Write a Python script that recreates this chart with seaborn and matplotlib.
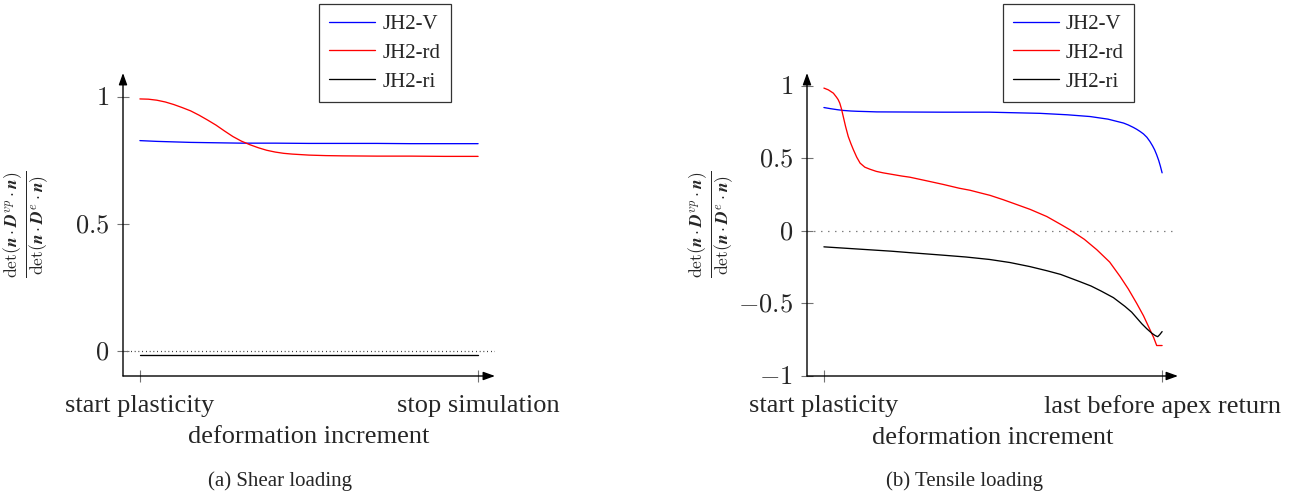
import numpy as np
import pandas as pd
import matplotlib
matplotlib.use("Agg")
import matplotlib.pyplot as plt
import seaborn as sns

# ---------------- data ----------------
series_names = ["JH2-V", "JH2-rd", "JH2-ri"]
series_colors = ["#0000ff", "#ff0000", "#000000"]

# (a) Shear loading
shear_V_t = [0, 0.05, 0.1, 0.15, 0.2, 0.25, 0.3, 0.4, 0.5, 0.6, 0.7, 0.8, 0.9, 1.0]
shear_V = [0.828, 0.825, 0.823, 0.821, 0.820, 0.819, 0.818, 0.818, 0.817, 0.817, 0.817,
           0.816, 0.816, 0.816]
shear_rd_t = [0, 0.025, 0.05, 0.075, 0.1, 0.125, 0.15, 0.175, 0.2, 0.225, 0.25, 0.275, 0.3,
              0.325, 0.35, 0.375, 0.4, 0.425, 0.45, 0.5, 0.55, 0.6, 0.7, 0.8, 0.9, 1.0]
shear_rd = [0.992, 0.991, 0.987, 0.980, 0.970, 0.958, 0.945, 0.928, 0.909, 0.889, 0.866,
            0.844, 0.826, 0.812, 0.800, 0.790, 0.783, 0.778, 0.775, 0.771, 0.769, 0.768,
            0.767, 0.767, 0.766, 0.766]
shear_ri_t = [0, 0.25, 0.5, 0.75, 1.0]
shear_ri = [-0.014, -0.014, -0.014, -0.014, -0.014]

# (b) Tensile loading
tens_V_t = [0, 0.02, 0.04, 0.057, 0.08, 0.1, 0.13, 0.156, 0.25, 0.35, 0.49, 0.639, 0.72,
            0.787, 0.84, 0.886, 0.90, 0.915, 0.925, 0.935, 0.945, 0.955, 0.964, 0.972,
            0.978, 0.984, 0.99, 0.995, 1.0]
tens_V = [0.85, 0.842, 0.835, 0.83, 0.826, 0.824, 0.822, 0.82, 0.819, 0.818, 0.818, 0.81,
          0.80, 0.788, 0.77, 0.743, 0.73, 0.713, 0.70, 0.685, 0.668, 0.645, 0.616, 0.585,
          0.558, 0.524, 0.485, 0.445, 0.40]
tens_rd_t = [0, 0.013, 0.028, 0.037, 0.042, 0.047, 0.052, 0.057, 0.064, 0.072, 0.08, 0.087,
             0.097, 0.107, 0.121, 0.136, 0.155, 0.175, 0.2, 0.23, 0.254, 0.30, 0.353, 0.40,
             0.432, 0.462, 0.491, 0.53, 0.56, 0.61, 0.659, 0.70, 0.728, 0.77, 0.807, 0.845,
             0.876, 0.90, 0.925, 0.945, 0.964, 0.975, 0.984, 1.0]
tens_rd = [0.984, 0.972, 0.949, 0.922, 0.905, 0.88, 0.84, 0.79, 0.72, 0.65, 0.60, 0.56,
           0.508, 0.467, 0.439, 0.425, 0.41, 0.40, 0.39, 0.378, 0.37, 0.347, 0.32, 0.294,
           0.28, 0.262, 0.245, 0.215, 0.19, 0.148, 0.099, 0.045, 0.007, -0.058, -0.13,
           -0.215, -0.315, -0.40, -0.5, -0.585, -0.68, -0.735, -0.79, -0.79]
tens_ri_t = [0, 0.1, 0.2, 0.254, 0.35, 0.42, 0.49, 0.55, 0.609, 0.66, 0.70, 0.757, 0.79,
             0.82, 0.856, 0.89, 0.91, 0.925, 0.94, 0.955, 0.97, 0.98, 0.987, 0.993, 1.0]
tens_ri = [-0.11, -0.125, -0.14, -0.15, -0.167, -0.18, -0.197, -0.218, -0.246, -0.275, -0.30,
           -0.35, -0.38, -0.415, -0.46, -0.52, -0.56, -0.60, -0.64, -0.675, -0.706, -0.722,
           -0.729, -0.715, -0.694]

shear_xticklabels = ["start plasticity", "stop simulation"]
tens_xticklabels = ["start plasticity", "last before apex return"]
shear_yticks = [0, 0.5, 1]
tens_yticks = [-1, -0.5, 0, 0.5, 1]
xlabel = "deformation increment"
ylabel = (r"$\frac{\det(\boldsymbol{n}\cdot\boldsymbol{D}^{vp}\cdot\boldsymbol{n})}"
          r"{\det(\boldsymbol{n}\cdot\boldsymbol{D}^{e}\cdot\boldsymbol{n})}$")
captions = ["(a) Shear loading", "(b) Tensile loading"]

# ---------------- style ----------------
sns.set_theme(style="white")
plt.rcParams["font.family"] = ["Liberation Serif", "DejaVu Serif"]
plt.rcParams["mathtext.fontset"] = "cm"

W, H = 1315, 498
fig = plt.figure(figsize=(W / 100, H / 100), dpi=100)


def px_axes(x0, x1, y0, y1):
    return fig.add_axes([x0 / W, 1 - y1 / H, (x1 - x0) / W, (y1 - y0) / H])


ax1 = px_axes(123, 495, 73, 376)
ax2 = px_axes(807, 1178, 73, 376)


def frame(df_list, ax, xlim, ylim, yticks, xticklabels, dots, ylab_x):
    for (t, v), name, col in zip(df_list, series_names, series_colors):
        df = pd.DataFrame({"t": t, "v": v})
        sns.lineplot(data=df, x="t", y="v", ax=ax, color=col, lw=0.95, sort=False,
                     estimator=None, label=name, legend=False)
    ax.axhline(0, color="black", lw=0.9, linestyle=(0, dots), zorder=0)
    ax.set_xlim(*xlim)
    ax.set_ylim(*ylim)
    for s in ax.spines.values():
        s.set_visible(False)
    arrow = dict(arrowstyle="-|>,head_length=0.5,head_width=0.18", lw=1.0, color="black",
                 shrinkA=0, shrinkB=0, mutation_scale=14)
    ax.annotate("", xy=(1, 0), xytext=(0, 0), xycoords="axes fraction", arrowprops=arrow)
    ax.annotate("", xy=(0, 1), xytext=(0, 0), xycoords="axes fraction", arrowprops=arrow)
    ax.set_xticks([0, 1])
    ax.set_xticklabels(xticklabels, fontsize=19)
    ax.set_yticks(yticks)
    ax.set_yticklabels([r"$%g$" % y for y in yticks], fontsize=19)
    ax.tick_params(axis="both", direction="inout", length=8, width=0.8, color="0.45",
                   bottom=True, left=True)
    ax.tick_params(axis="y", pad=6)
    ax.tick_params(axis="x", pad=9.5)
    ax.set_xlabel(xlabel, fontsize=19, labelpad=7)
    ax.set_ylabel(ylabel, fontsize=18)
    ax.yaxis.set_label_coords(ylab_x, 0.5)
    ax.grid(False)
    ax.set_facecolor("none")


frame([(shear_V_t, shear_V), (shear_rd_t, shear_rd), (shear_ri_t, shear_ri)], ax1,
      (-0.05, 1.05), (-0.098, 1.094), shear_yticks, shear_xticklabels, (0.6, 2.4), -0.19)
frame([(tens_V_t, tens_V), (tens_rd_t, tens_rd), (tens_ri_t, tens_ri)], ax2,
      (-0.05, 1.047), (-1.0, 1.088), tens_yticks, tens_xticklabels, (0.6, 5.0), -0.19)

for ax, cx in [(ax1, 385), (ax2, 1068.5)]:
    leg = ax.legend(loc="center", bbox_to_anchor=(cx / W, 1 - 53 / H),
                    bbox_transform=fig.transFigure, fontsize=15, frameon=True,
                    fancybox=False, edgecolor="black", handlelength=2.2,
                    labelspacing=0.45, borderpad=0.5, handletextpad=0.35,
                    borderaxespad=0)
    leg.get_frame().set_linewidth(0.9)

fig.text(280 / W, 1 - 481 / H, captions[0], ha="center", va="center", fontsize=15)
fig.text(965 / W, 1 - 481 / H, captions[1], ha="center", va="center", fontsize=15)

fig.savefig("out.png", dpi=100)
